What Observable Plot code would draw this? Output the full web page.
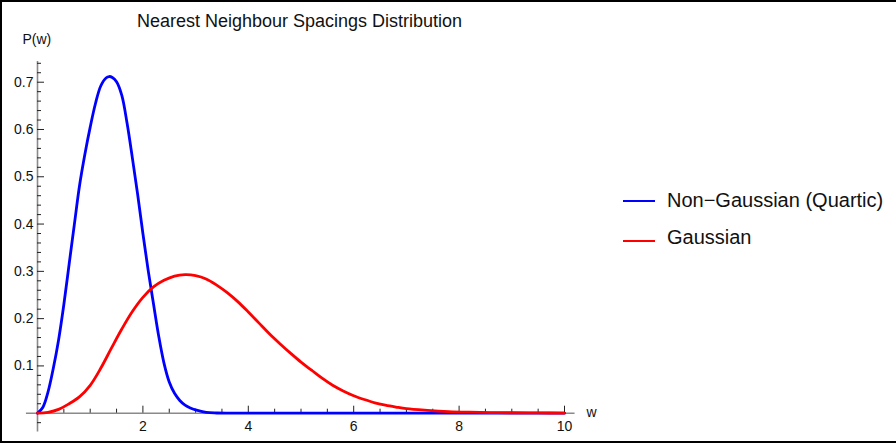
<!DOCTYPE html>
<html>
<head>
<meta charset="utf-8">
<script src="https://cdn.jsdelivr.net/npm/d3@7"></script>
<script src="https://cdn.jsdelivr.net/npm/@observablehq/plot@0.6"></script>
<style>
  html, body { margin: 0; padding: 0; background: #fff; overflow: hidden; }
  #wrap { position: relative; width: 896px; height: 444px; overflow: hidden; font-family: "Liberation Sans", Arial, sans-serif; color: #111; }
  #frame { position: absolute; left: 0; top: 0; width: 910px; height: 443px; box-sizing: border-box; border: 2px solid #000; pointer-events: none; }
  .lbl { position: absolute; line-height: 1; white-space: nowrap; }
  .key { position: absolute; width: 32px; height: 2.4px; }
  #chart { position: absolute; left: 0; top: 0; }
</style>
</head>
<body>
<div id="wrap">
  <div id="chart"></div>
  <div class="lbl" id="title" style="left:0; width:599px; text-align:center; top:11.5px; font-size:18px;"></div>
  <div class="lbl" id="ylab" style="left:22.5px; top:32px; font-size:14px;"></div>
  <div class="lbl" id="xlab" style="left:586.5px; top:404.5px; font-size:14px;"></div>
  <div class="key" style="left:623px; top:199.5px; background:#0000ff;"></div>
  <div class="lbl" id="leg1" style="left:667px; top:190.4px; font-size:20px;"></div>
  <div class="key" style="left:623px; top:239.5px; background:#ff0000;"></div>
  <div class="lbl" id="leg2" style="left:667px; top:227.1px; font-size:20px;"></div>
  <div id="frame"></div>
</div>
<script>
// ---- text ----
const titleText = "Nearest Neighbour Spacings Distribution";
const yLabel = "P(w)";
const xLabel = "w";
const seriesNames = ["Non\u2212Gaussian (Quartic)", "Gaussian"];
const seriesColors = ["#0000ff", "#ff0000"];

// ---- Non-Gaussian (Quartic) curve ----
const blueW = [0, 0.1, 0.2, 0.3, 0.4, 0.5, 0.6, 0.7, 0.8, 0.9, 1.0, 1.1, 1.2, 1.3, 1.36, 1.42, 1.5, 1.6, 1.7, 1.8, 1.9, 2.0, 2.1, 2.2, 2.3, 2.4, 2.5, 2.6, 2.7, 2.8, 2.9, 3.0, 3.2, 3.4, 3.6, 4, 5, 6, 7, 8, 9, 10];
const blueP = [0, 0.012, 0.045, 0.095, 0.155, 0.23, 0.315, 0.4, 0.483, 0.548, 0.605, 0.655, 0.692, 0.709, 0.712, 0.71, 0.701, 0.672, 0.613, 0.54, 0.463, 0.38, 0.302, 0.232, 0.163, 0.106, 0.066, 0.042, 0.027, 0.017, 0.011, 0.007, 0.0018, 0.0004, 0, 0, 0, 0, 0, 0, 0, 0];

// ---- Gaussian curve ----
const redW = [0, 0.2, 0.4, 0.6, 0.8, 1.0, 1.2, 1.4, 1.6, 1.8, 2.0, 2.2, 2.4, 2.6, 2.8, 3.0, 3.2, 3.4, 3.6, 3.8, 4.0, 4.2, 4.4, 4.6, 4.8, 5.0, 5.2, 5.4, 5.6, 5.8, 6.0, 6.2, 6.4, 6.6, 6.8, 7.0, 7.4, 7.8, 8.2, 8.6, 9.0, 9.5, 10];
const redP = [0, 0.002, 0.008, 0.02, 0.035, 0.059, 0.095, 0.137, 0.178, 0.215, 0.245, 0.267, 0.281, 0.29, 0.293, 0.291, 0.284, 0.271, 0.255, 0.236, 0.214, 0.191, 0.168, 0.147, 0.127, 0.108, 0.091, 0.074, 0.059, 0.047, 0.037, 0.029, 0.022, 0.017, 0.013, 0.0095, 0.006, 0.0035, 0.0022, 0.0014, 0.0009, 0.0005, 0.0003];

// ---- ticks ----
const xMajor = [2, 4, 6, 8, 10];
const xMinor = [0.5, 1, 1.5, 2.5, 3, 3.5, 4.5, 5, 5.5, 6.5, 7, 7.5, 8.5, 9, 9.5];
const yMajor = [0.1, 0.2, 0.3, 0.4, 0.5, 0.6, 0.7];
const yMinor = [-0.02, 0.02, 0.04, 0.06, 0.08, 0.12, 0.14, 0.16, 0.18, 0.22, 0.24, 0.26, 0.28, 0.32, 0.34, 0.36, 0.38, 0.42, 0.44, 0.46, 0.48, 0.52, 0.54, 0.56, 0.58, 0.62, 0.64, 0.66, 0.68, 0.72, 0.74];
const xAxisExtent = [-0.21, 10.2];
const yAxisExtent = [-0.04, 0.744];

const blue = blueW.map((w, i) => ({w, p: blueP[i]}));
const red = redW.map((w, i) => ({w, p: redP[i]}));

const axisColor = "#8a8a8a";
const tickColor = "#222";

const chart = Plot.plot({
  width: 896,
  height: 444,
  marginLeft: 37,
  marginRight: 332,
  marginTop: 60.9,
  marginBottom: 31.3,
  x: {domain: [0, 10]},
  y: {domain: [0, 0.744]},
  style: {fontFamily: '"Liberation Sans", Arial, sans-serif', fontSize: "14px", color: "#111", background: "transparent", overflow: "visible"},
  marks: [
    Plot.ruleY([0], {x1: xAxisExtent[0], x2: xAxisExtent[1], stroke: axisColor, strokeWidth: 1.6}),
    Plot.ruleX([0], {y1: yAxisExtent[0], y2: yAxisExtent[1], stroke: axisColor, strokeWidth: 1.6}),
    Plot.axisX(xMajor, {tickSize: -7, tickFormat: () => "", stroke: tickColor, label: null}),
    Plot.axisX(xMinor, {tickSize: -4, tickFormat: () => "", stroke: tickColor, label: null}),
    Plot.axisX(xMajor, {tickSize: 0, tickPadding: 8, label: null, fill: "#111"}),
    Plot.axisY(yMajor, {tickSize: -7, tickFormat: () => "", stroke: tickColor, label: null}),
    Plot.axisY(yMinor, {tickSize: -4, tickFormat: () => "", stroke: tickColor, label: null}),
    Plot.axisY(yMajor, {tickSize: 0, tickPadding: 4, label: null, fill: "#111"}),
    Plot.line(blue, {x: "w", y: "p", stroke: seriesColors[0], strokeWidth: 2.8, curve: "catmull-rom"}),
    Plot.line(red, {x: "w", y: "p", stroke: seriesColors[1], strokeWidth: 2.8, curve: "catmull-rom"})
  ]
});
document.getElementById("chart").appendChild(chart);
document.getElementById("title").textContent = titleText;
document.getElementById("ylab").textContent = yLabel;
document.getElementById("xlab").textContent = xLabel;
document.getElementById("leg1").textContent = seriesNames[0];
document.getElementById("leg2").textContent = seriesNames[1];
</script>
</body>
</html>
